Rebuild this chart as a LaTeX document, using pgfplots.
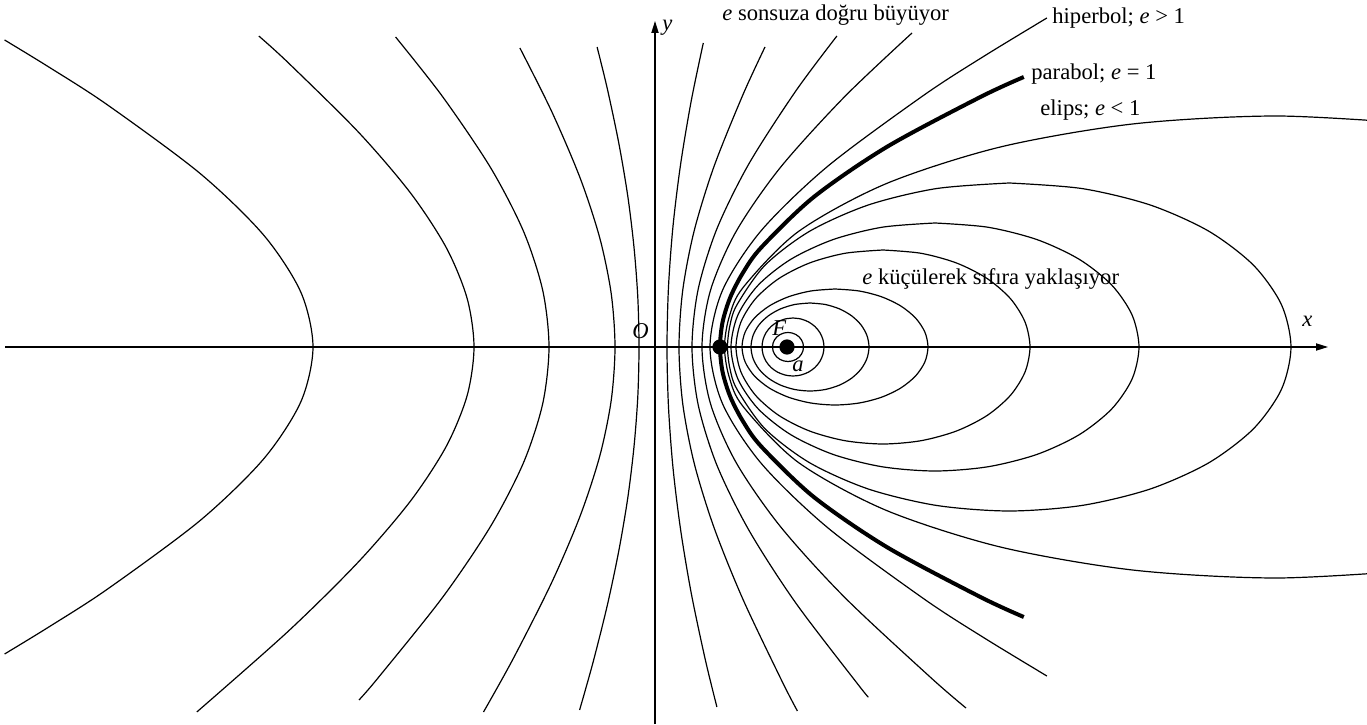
\documentclass[border=0pt]{standalone}
\usepackage{fontspec}
\setmainfont{Liberation Serif}
\usepackage{pgfplots}
\pgfplotsset{compat=1.18}
\usetikzlibrary{arrows.meta}
\begin{document}
\begin{tikzpicture}[lbl/.style={font=\fontsize{11.3}{13}\selectfont, anchor=base west, inner sep=0pt}]
\begin{axis}[
  x=0.5pt, y=0.5pt,
  xmin=0, xmax=1367, ymin=-377, ymax=347,
  hide axis, clip=true,
  every axis plot/.append style={line width=0.6pt, black},
]
% axes
\addplot[-{Triangle[length=6pt,width=3.6pt]}] coordinates {(5,0) (1328,0)};
\addplot[-{Triangle[length=6pt,width=3.6pt]}] coordinates {(655,-377) (655,326)};
% near hyperbola branches
\addplot[smooth] coordinates {(716.9,-360) (705.3,-312.7) (691.3,-246.5) (680.6,-182.7) (673.0,-120.8) (668.5,-60.1) (667,0) (668.5,60.1) (673.0,120.8) (680.6,182.7) (691.3,246.5) (703.3,304)};
\addplot[smooth] coordinates {(797.4,-364) (781.8,-333.8) (742.9,-252.2) (714.1,-180.8) (694.3,-116.7) (682.8,-57.2) (679,0) (682.8,57.2) (694.3,116.7) (714.1,180.8) (742.9,252.2) (765,300)};
\addplot[smooth] coordinates {(868.3,-350) (858.6,-338.2) (795.5,-255.6) (748.9,-183.2) (716.9,-118.2) (698.2,-57.9) (692,0) (698.2,57.9) (716.9,118.2) (748.9,183.2) (795.5,255.6) (836.9,311)};
\addplot[smooth] coordinates {(966,-361) (931.1,-330.9) (844.4,-250.1) (780.2,-179.3) (736.2,-115.7) (710.5,-56.7) (702,0) (710.5,56.7) (736.2,115.7) (780.2,179.3) (844.4,250.1) (912,314)};
\addplot[smooth] coordinates {(1046.9,-329) (984.8,-291.3) (924.1,-252.0) (827.7,-180.7) (761.4,-116.6) (722.7,-57.1) (710,0) (722.7,57.1) (761.4,116.6) (827.7,180.7) (924.1,252.0) (984.8,291.3) (1046.9,329)};
% far hyperbola branches
\addplot[smooth] coordinates {(579.6,-363) (593.1,-315.1) (607.4,-257.9) (618.9,-203.3) (627.8,-150.7) (634.0,-99.7) (637.8,-49.6) (639,0) (637.8,49.6) (634.0,99.7) (627.8,150.7) (618.9,203.3) (607.4,257.9) (597.1,300)};
\addplot[smooth] coordinates {(483.5,-365) (513.2,-311.7) (551.7,-235.5) (580.2,-168.8) (599.8,-108.9) (611.2,-53.4) (615,0) (611.2,53.4) (599.8,108.9) (580.2,168.8) (551.7,235.5) (519.9,299)};
\addplot[smooth] coordinates {(359,-353) (377.9,-331.1) (442.7,-250.2) (490.6,-179.3) (523.5,-115.7) (542.7,-56.7) (549,0) (542.7,56.7) (523.5,115.7) (490.6,179.3) (442.7,250.2) (395.6,310)};
\addplot[smooth] coordinates {(196.8,-365) (288.3,-284.2) (358.6,-214.7) (410.6,-153.9) (446.3,-99.3) (467.1,-48.7) (474,0) (467.1,48.7) (446.3,99.3) (410.6,153.9) (358.6,214.7) (288.3,284.2) (258.8,311)};
\addplot[smooth] coordinates {(4.6,-307) (48.8,-280.0) (107.2,-242.3) (199.9,-173.7) (263.5,-112.1) (300.8,-54.9) (313,0) (300.8,54.9) (263.5,112.1) (199.9,173.7) (107.2,242.3) (48.8,280.0) (4.6,307)};
% ellipses
\addplot[smooth] coordinates {(788,14.5) (783.99,14.01) (780.25,12.56) (777.04,10.25) (774.58,7.25) (773.03,3.75) (772.5,0) (773.03,-3.75) (774.58,-7.25) (777.04,-10.25) (780.25,-12.56) (783.99,-14.01) (788,-14.5) (792.01,-14.01) (795.75,-12.56) (798.96,-10.25) (801.42,-7.25) (802.97,-3.75) (803.5,0) (802.97,3.75) (801.42,7.25) (798.96,10.25) (795.75,12.56) (792.01,14.01) (788,14.5)};
\addplot[smooth] coordinates {(793,29) (784.98,28.01) (777.5,25.11) (771.08,20.51) (766.15,14.5) (763.06,7.51) (762,0) (763.06,-7.51) (766.15,-14.5) (771.08,-20.51) (777.5,-25.11) (784.98,-28.01) (793,-29) (801.02,-28.01) (808.5,-25.11) (814.92,-20.51) (819.85,-14.5) (822.94,-7.51) (824,0) (822.94,7.51) (819.85,14.5) (814.92,20.51) (808.5,25.11) (801.02,28.01) (793,29)};
\addplot[smooth] coordinates {(810,44) (794.73,42.5) (780.5,38.11) (768.28,31.11) (758.9,22) (753.01,11.39) (751,0) (753.01,-11.39) (758.9,-22) (768.28,-31.11) (780.5,-38.11) (794.73,-42.5) (810,-44) (825.27,-42.5) (839.5,-38.11) (851.72,-31.11) (861.1,-22) (866.99,-11.39) (869,0) (866.99,11.39) (861.1,22) (851.72,31.11) (839.5,38.11) (825.27,42.5) (810,44)};
\addplot[smooth] coordinates {(835,58) (810.93,56.02) (788.5,50.23) (769.24,41.01) (754.46,29) (745.17,15.01) (742,0) (745.17,-15.01) (754.46,-29) (769.24,-41.01) (788.5,-50.23) (810.93,-56.02) (835,-58) (859.07,-56.02) (881.5,-50.23) (900.76,-41.01) (915.54,-29) (924.83,-15.01) (928,0) (924.83,15.01) (915.54,29) (900.76,41.01) (881.5,50.23) (859.07,56.02) (835,58)};
\addplot[smooth] coordinates {(883,97) (844.95,93.7) (809.5,84) (779.05,68.59) (755.69,48.5) (741.01,25.11) (736,0) (741.01,-25.11) (755.69,-48.5) (779.05,-68.59) (809.5,-84) (844.95,-93.7) (883,-97) (921.05,-93.7) (956.5,-84) (986.95,-68.59) (1010.31,-48.5) (1024.99,-25.11) (1030,0) (1024.99,25.11) (1010.31,48.5) (986.95,68.59) (956.5,84) (921.05,93.7) (883,97)};
\addplot[smooth] coordinates {(935,124) (882.2,119.78) (833,107.39) (790.75,87.68) (758.33,62) (737.95,32.09) (731,0) (737.95,-32.09) (758.33,-62) (790.75,-87.68) (833,-107.39) (882.2,-119.78) (935,-124) (987.8,-119.78) (1037,-107.39) (1079.25,-87.68) (1111.67,-62) (1132.05,-32.09) (1139,0) (1132.05,32.09) (1111.67,62) (1079.25,87.68) (1037,107.39) (987.8,119.78) (935,124)};
\addplot[smooth] coordinates {(1009.25,164) (936.33,158.41) (868.37,142.03) (810.02,115.97) (765.25,82) (737.1,42.45) (729.91,21.41) (727.5,0) (729.91,-21.41) (737.1,-42.45) (765.25,-82) (810.02,-115.97) (868.37,-142.03) (936.33,-158.41) (1009.25,-164) (1082.17,-158.41) (1150.13,-142.03) (1208.48,-115.97) (1253.25,-82) (1281.4,-42.45) (1291,0) (1281.4,42.45) (1253.25,82) (1208.48,115.97) (1150.13,142.03) (1082.17,158.41) (1009.25,164)};
\addplot[smooth] coordinates {(1419.37,223.13) (1276.5,231) (1133.63,223.13) (1000.5,200.05) (886.18,163.34) (798.45,115.5) (743.31,59.79) (729.22,30.15) (724.5,0) (729.22,-30.15) (743.31,-59.79) (798.45,-115.5) (886.18,-163.34) (1000.5,-200.05) (1133.63,-223.13) (1276.5,-231) (1419.37,-223.13)};
% parabola
\addplot[smooth, line width=2pt] coordinates {(1023.8,-270) (980.4,-250) (886.7,-200) (813.8,-150) (761.7,-100) (743.4,-75) (730.4,-50) (722.6,-25) (720,0) (722.6,25) (730.4,50) (743.4,75) (761.7,100) (813.8,150) (886.7,200) (980.4,250) (1023.8,270)};
% vertex and focus
\addplot[only marks, mark=*, mark size=3.5pt] coordinates {(720,0) (787,0)};
% labels
\node[lbl] at (axis cs:722,326) {\textit{e} sonsuza doğru büyüyor};
\node[lbl] at (axis cs:662,316) {\textit{y}};
\node[lbl] at (axis cs:1052,323) {hiperbol; \textit{e} > 1};
\node[lbl] at (axis cs:1031,267) {parabol; \textit{e} = 1};
\node[lbl] at (axis cs:1040,231) {elips; \textit{e} < 1};
\node[lbl] at (axis cs:862,62) {\textit{e} küçülerek sıfıra yaklaşıyor};
\node[lbl] at (axis cs:632,8) {\textit{O}};
\node[lbl] at (axis cs:772,11) {\textit{F}};
\node[lbl] at (axis cs:792,-25) {\textit{a}};
\node[lbl] at (axis cs:1302,20) {\textit{x}};
\coordinate (BL) at (axis cs:0,-377);
\coordinate (TR) at (axis cs:1367,347);
\end{axis}
\pgfresetboundingbox
\path[use as bounding box] (BL) rectangle (TR);
\end{tikzpicture}
\end{document}
